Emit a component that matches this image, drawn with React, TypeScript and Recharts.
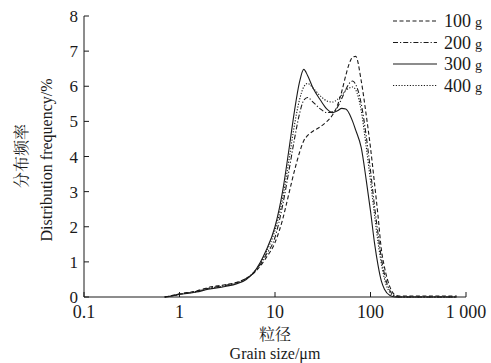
import { LineChart, Line, XAxis, YAxis } from 'recharts'

const sizes = [0.7, 0.8, 1, 1.5, 2, 3, 4, 5, 6, 7, 8, 10, 12, 14, 16, 18, 20, 22, 25, 30, 35, 40, 45, 50, 55, 60, 65, 70, 80, 90, 100, 110, 120, 130, 140, 160, 180, 200, 300, 500, 800]

const g100 = [0, 0.03, 0.09, 0.17, 0.27, 0.35, 0.42, 0.53, 0.68, 0.88, 1.1, 1.55, 2.2, 2.95, 3.6, 4.1, 4.45, 4.6, 4.72, 4.85, 5.0, 5.18, 5.45, 5.85, 6.3, 6.65, 6.83, 6.85, 6.15, 5.2, 4.25, 3.25, 2.3, 1.35, 0.85, 0.28, 0.06, 0.03, 0.03, 0.03, 0.03]
const g200 = [0, 0.02, 0.08, 0.16, 0.25, 0.33, 0.41, 0.53, 0.7, 0.92, 1.18, 1.7, 2.6, 3.6, 4.5, 5.2, 5.6, 5.68, 5.55, 5.35, 5.25, 5.27, 5.4, 5.65, 5.9, 6.08, 6.15, 6.05, 5.5, 4.6, 3.6, 2.6, 1.8, 1.1, 0.65, 0.18, 0.03, 0, 0, 0, 0]
const g300 = [0, 0.02, 0.07, 0.14, 0.22, 0.3, 0.38, 0.5, 0.7, 0.98, 1.3, 2.0, 3.0, 4.2, 5.3, 6.1, 6.48, 6.3, 5.95, 5.6, 5.35, 5.25, 5.3, 5.37, 5.35, 5.22, 5.0, 4.75, 4.25, 3.35, 2.45, 1.55, 0.9, 0.45, 0.22, 0.04, 0, 0, 0, 0, 0]
const g400 = [0, 0.02, 0.08, 0.15, 0.24, 0.32, 0.4, 0.52, 0.7, 0.95, 1.25, 1.9, 2.8, 3.9, 4.9, 5.6, 5.98, 6.08, 5.95, 5.72, 5.58, 5.55, 5.62, 5.75, 5.88, 5.95, 5.98, 5.9, 5.3, 4.3, 3.3, 2.35, 1.55, 0.95, 0.52, 0.12, 0.02, 0, 0, 0, 0]

const xTicks = [0.1, 1, 10, 100, 1000]
const yTicks = [0, 1, 2, 3, 4, 5, 6, 7, 8]

const series = [
  { key: 'g100', name: '100', dash: '4 2.5' },
  { key: 'g200', name: '200', dash: '5 2 1.2 2' },
  { key: 'g300', name: '300', dash: undefined },
  { key: 'g400', name: '400', dash: '1.2 1.6' },
]

const data = sizes.map((s, i) => ({
  size: s,
  g100: g100[i],
  g200: g200[i],
  g300: g300[i],
  g400: g400[i],
}))

const serif = 'Liberation Serif, Times New Roman, DejaVu Serif, serif'
const cjk = 'Noto Serif CJK SC, Noto Sans CJK SC, sans-serif'
const ink = '#1a1a1a'

function LegendBox() {
  return (
    <svg width={100} height={92} style={{ position: 'absolute', left: 391, top: 12 }}>
      {series.map((s, i) => {
        const y = 9 + i * 21.5
        return (
          <g key={s.key}>
            <line x1={2} x2={46} y1={y} y2={y} stroke={ink} strokeWidth={1.1} strokeDasharray={s.dash} />
            <text x={53} y={y + 6} fontFamily={serif} fontSize={18} fill={ink}>
              {s.name}
              <tspan fontSize={14} dx={4}>g</tspan>
            </text>
          </g>
        )
      })}
    </svg>
  )
}

// axis titles drawn over the chart
function Titles() {
  return (
    <svg width={491} height={363} style={{ position: 'absolute', left: 0, top: 0, pointerEvents: 'none' }}>
      <g fill={ink} textAnchor="middle">
        <text x={275} y={340} fontSize={16} fontFamily={cjk}>粒径</text>
        <text x={275} y={359} fontSize={16} style={{ fontFamily: serif }}>Grain size/μm</text>
        <text x={0} y={0} fontSize={16} fontFamily={cjk} transform="translate(27,156) rotate(-90)">分布频率</text>
        <text x={0} y={0} fontSize={16} style={{ fontFamily: serif }} transform="translate(52,160) rotate(-90)">
          Distribution frequency/%
        </text>
      </g>
    </svg>
  )
}

export default function App() {
  return (
    <div style={{ position: 'absolute', left: 0, top: 0, width: 491, height: 363 }}>
      <LineChart width={491} height={363} data={data} margin={{ top: 16, right: 25, left: 0, bottom: 0 }}>
        <XAxis
          dataKey="size"
          type="number"
          scale="log"
          domain={[0.1, 1000]}
          ticks={xTicks}
          interval={0}
          allowDataOverflow
          height={66}
          tickSize={-5}
          tickMargin={13}
          stroke={ink}
          tick={{ fontFamily: serif, fontSize: 18, fill: ink }}
          tickFormatter={(v: number) => (v === 1000 ? '1 000' : String(v))}
        />
        <YAxis
          type="number"
          domain={[0, 8]}
          ticks={yTicks}
          interval={0}
          width={84}
          tickSize={-5}
          tickMargin={11}
          stroke={ink}
          tick={{ fontFamily: serif, fontSize: 17, fill: ink }}
        />
        {series.map((s) => (
          <Line
            key={s.key}
            dataKey={s.key}
            name={s.name}
            type="monotone"
            stroke={ink}
            strokeWidth={1.1}
            strokeDasharray={s.dash}
            dot={false}
            activeDot={false}
            isAnimationActive={false}
          />
        ))}
      </LineChart>
      <LegendBox />
      <Titles />
    </div>
  )
}
